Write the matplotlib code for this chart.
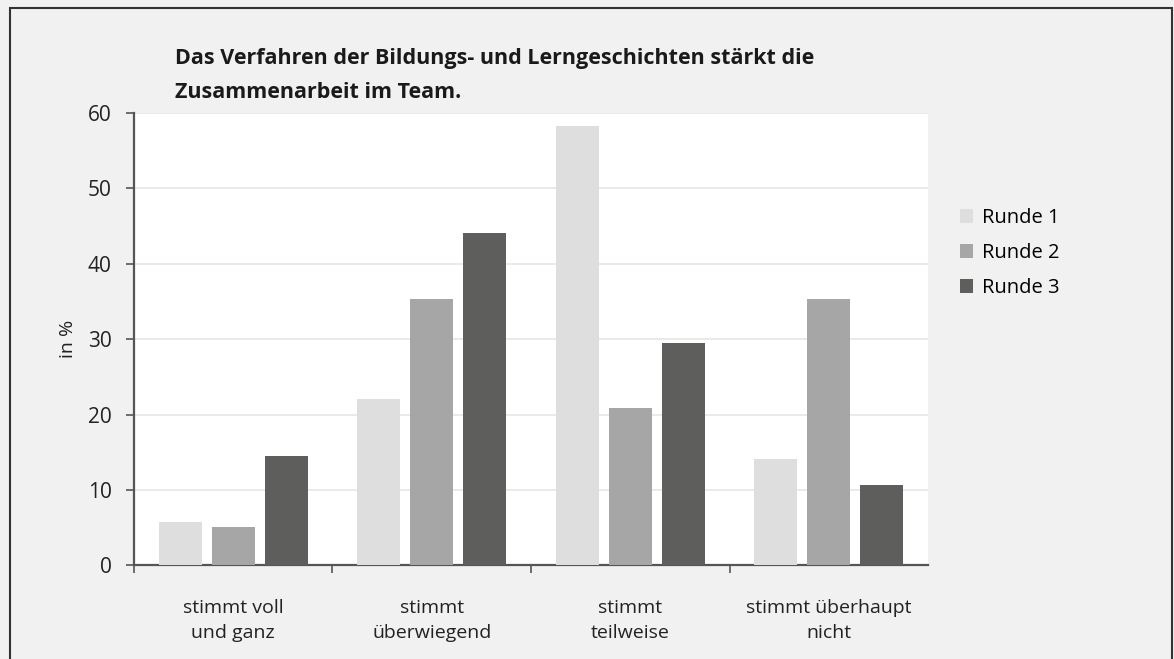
import matplotlib
matplotlib.use("Agg")
import matplotlib.pyplot as plt
from matplotlib.patches import Rectangle
import numpy as np

# Survey results (percent) per answer category and round
categories = ["stimmt voll\nund ganz", "stimmt\nüberwiegend", "stimmt\nteilweise", "stimmt überhaupt\nnicht"]
series_names = ["Runde 1", "Runde 2", "Runde 3"]
runde1 = [5.8, 22.1, 58.3, 14.1]
runde2 = [5.1, 35.3, 20.9, 35.3]
runde3 = [14.5, 44.1, 29.5, 10.7]
yticks = [0, 10, 20, 30, 40, 50, 60]
title = "Das Verfahren der Bildungs- und Lerngeschichten stärkt die\nZusammenarbeit im Team."

colors = ["#dedede", "#a5a6a5", "#5e5e5c"]
bg = "#f1f1f1"
spine_col = "#555555"
text_col = "#222222"

plt.rcParams["font.family"] = ["Open Sans", "DejaVu Sans"]

fig = plt.figure(figsize=(11.74, 6.59), dpi=100, facecolor=bg)
ax = fig.add_axes([0.1141, 0.1422, 0.6764, 0.6863])
ax.set_facecolor("white")

x = np.arange(len(categories))
width = 0.217
step = 0.267
for k, (vals, name) in enumerate(zip([runde1, runde2, runde3], series_names)):
    ax.bar(x + (k - 1) * step, vals, width=width, color=colors[k], label=name, zorder=3)

ax.set_xlim(-0.5, len(categories) - 0.5)
ax.set_ylim(0, 60)
ax.set_yticks(yticks)
ax.yaxis.grid(True, color="#e6e6e6", linewidth=1.2, zorder=0)
ax.set_axisbelow(True)

for side in ["top", "right"]:
    ax.spines[side].set_visible(False)
for side in ["left", "bottom"]:
    ax.spines[side].set_color(spine_col)
    ax.spines[side].set_linewidth(1.6)

ax.tick_params(axis="y", direction="out", length=6, width=1.2, color=spine_col,
               labelsize=15, pad=10, labelcolor=text_col)

# Category labels centred, tick marks at the category boundaries
ax.set_xticks(x)
ax.set_xticklabels(categories, fontsize=14, color=text_col, linespacing=1.45)
ax.tick_params(axis="x", which="major", length=0, pad=24.5)
ax.set_xticks(np.arange(-0.5, len(categories) - 0.5, 1.0), minor=True)
ax.tick_params(axis="x", which="minor", direction="out", length=6, width=1.2, color=spine_col)

ax.set_ylabel("in %", fontsize=14, color=text_col, labelpad=8)

fig.text(175 / 1174, 1 - 48 / 659, title, fontsize=15.5, fontweight="bold",
         color="#1a1a1a", va="top", ha="left", linespacing=1.8)

ax.legend(loc="upper left", bbox_to_anchor=(960 / 1174, 1 - 208 / 659),
          bbox_transform=fig.transFigure, frameon=False, fontsize=14.5,
          handlelength=0.65, handleheight=0.65, handletextpad=0.45,
          labelspacing=0.75, borderaxespad=0, borderpad=0)

# Frame around the whole graphic
fig.patches.append(Rectangle((10 / 1174, -0.02), 1162 / 1174, 1 - 7.5 / 659 + 0.02,
                             transform=fig.transFigure, fill=False,
                             edgecolor="#333333", linewidth=1.5))

fig.savefig("out.png", dpi=100, facecolor=bg)
